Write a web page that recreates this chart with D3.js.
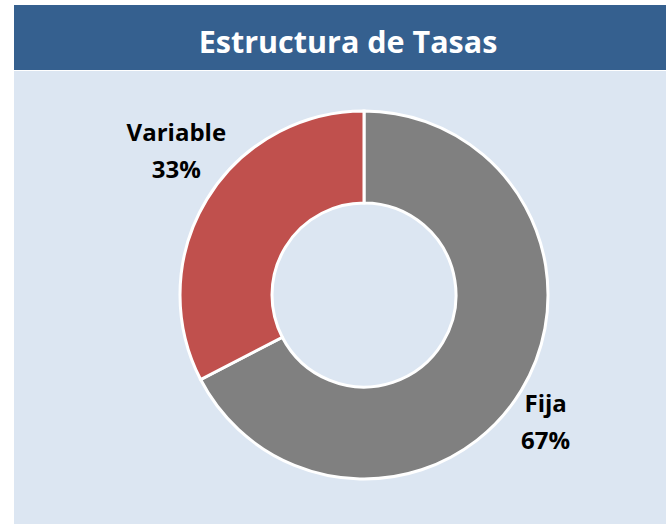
<!DOCTYPE html>
<html>
<head>
<meta charset="utf-8">
<script src="https://cdn.jsdelivr.net/npm/d3@7"></script>
<style>
  body { margin: 0; background: #fff; }
  svg { display: block; }
</style>
</head>
<body>
<script>
// Chart size
var width = 666;
var height = 527;

// Data
var categories = ["Fija", "Variable"];
var values = [67.4, 32.6];
var percentLabels = ["67%", "33%"];
var colors = ["#808080", "#C0504D"];

var svg = d3.select("body")
  .append("svg")
  .attr("width", width)
  .attr("height", height);

// Background panel
svg.append("rect")
  .attr("x", 14).attr("y", 71)
  .attr("width", width - 14).attr("height", 453)
  .attr("fill", "#DCE6F2");

// Title bar
svg.append("rect")
  .attr("x", 14).attr("y", 5)
  .attr("width", width - 14).attr("height", 65)
  .attr("fill", "#35608F");

svg.append("text")
  .attr("x", 348).attr("y", 53)
  .attr("text-anchor", "middle")
  .attr("font-family", "'Open Sans', sans-serif")
  .attr("font-weight", "bold")
  .attr("font-size", 30.5)
  .attr("fill", "#fff")
  .text("Estructura de Tasas");

// Donut
var cx = 364, cy = 295;
var outerR = 184, innerR = 92;

var pie = d3.pie().sort(null).value(function(d) { return d; });
var arc = d3.arc().innerRadius(innerR).outerRadius(outerR);

var g = svg.append("g").attr("transform", "translate(" + cx + "," + cy + ")");

g.selectAll("path")
  .data(pie(values))
  .enter()
  .append("path")
  .attr("d", arc)
  .attr("fill", function(d, i) { return colors[i]; })
  .attr("stroke", "#fff")
  .attr("stroke-width", 3);

// Labels outside the ring
var labelArc = d3.arc().innerRadius(outerR + 45).outerRadius(outerR + 45);
var labelOffsets = [[-14, -2], [8, -35]];

var labels = g.selectAll(".lbl")
  .data(pie(values))
  .enter()
  .append("text")
  .attr("class", "lbl")
  .attr("text-anchor", "middle")
  .attr("font-family", "'Open Sans', sans-serif")
  .attr("font-weight", "bold")
  .attr("font-size", 24)
  .attr("fill", "#000")
  .attr("transform", function(d, i) {
    var c = labelArc.centroid(d);
    return "translate(" + (c[0] + labelOffsets[i][0]) + "," + (c[1] + labelOffsets[i][1]) + ")";
  });

labels.append("tspan")
  .attr("x", 0).attr("dy", 0)
  .text(function(d, i) { return categories[i]; });
labels.append("tspan")
  .attr("x", 0).attr("dy", 37)
  .text(function(d, i) { return percentLabels[i]; });
</script>
</body>
</html>
